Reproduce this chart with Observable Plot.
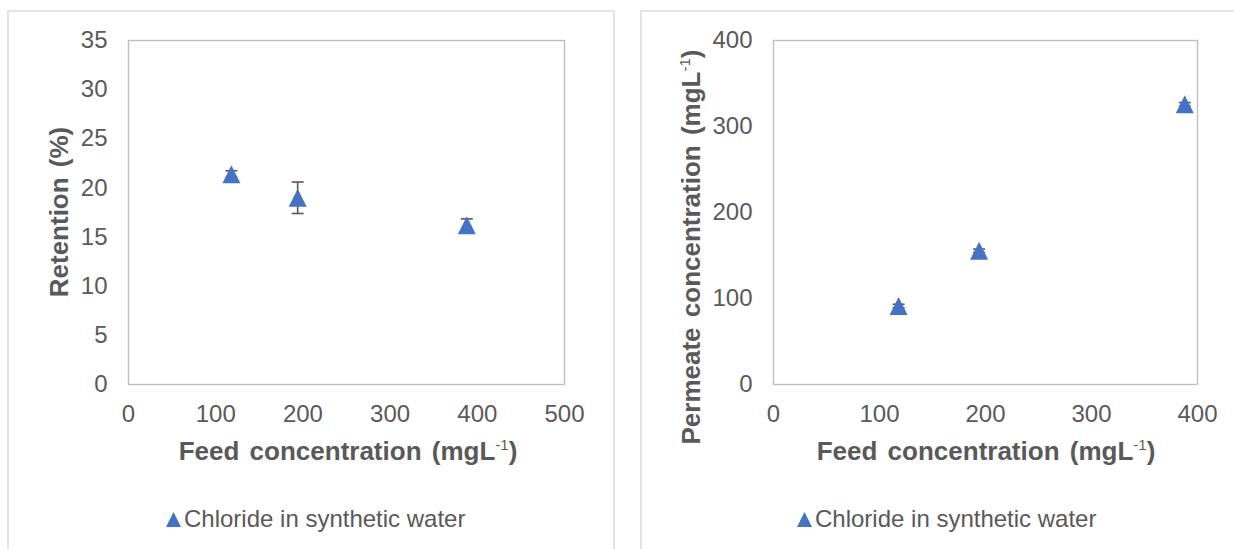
<!DOCTYPE html>
<html>
<head>
<meta charset="utf-8">
<script src="https://cdn.jsdelivr.net/npm/d3@7"></script>
<script src="https://cdn.jsdelivr.net/npm/@observablehq/plot@0.6"></script>
<style>
  html, body { margin: 0; padding: 0; background: #fff; }
  #page { position: relative; width: 1234px; height: 549px; overflow: hidden; font-family: "Liberation Sans", Arial, sans-serif; }
  .panel { position: absolute; border: 2px solid #e4e4e4; background: #fff; }
  .chart { position: absolute; top: 0; }
</style>
</head>
<body>
<div id="page">
  <div class="panel" style="left:7px; top:10px; width:604px; height:600px;"></div>
  <div class="panel" style="left:640px; top:10px; width:640px; height:600px;"></div>
  <div class="chart" id="left" style="left:0px;"></div>
  <div class="chart" id="right" style="left:620px;"></div>
</div>
<script>
// ---- data ----
const seriesName = "Chloride in synthetic water";

const feedRetention = [118, 194, 388];
const retention = [21.4, 19.0, 16.2];
const retentionErr = [0.35, 1.6, 0.65];

const feedPermeate = [118, 194, 388];
const permeate = [91.3, 155.5, 325.8];
const permeateErr = [2, 2, 2];

const leftXTicks = [0, 100, 200, 300, 400, 500];
const leftYTicks = [0, 5, 10, 15, 20, 25, 30, 35];
const rightXTicks = [0, 100, 200, 300, 400];
const rightYTicks = [0, 100, 200, 300, 400];

// ---- styling ----
const blue = "#4472C4";
const grey = "#595959";

const triangle = {
  draw(context, size) {
    const r = Math.sqrt(size / Math.PI);
    context.moveTo(0, -r);
    context.lineTo(r, r);
    context.lineTo(-r, r);
    context.closePath();
  }
};
const capLine = {
  draw(context, size) {
    const r = Math.sqrt(size / Math.PI);
    context.moveTo(-r, 0);
    context.lineTo(r, 0);
  }
};

function makeChart({xs, ys, es, xDomain, xTicks, yDomain, yTicks, width, ml, mr, mt, mb,
                    xTitle, yTitle, xTitlePos, yTitlePos, legendPos}) {
  const data = xs.map((x, i) => ({x, y: ys[i], e: es[i]}));
  const svg = Plot.plot({
    width, height: 549,
    marginLeft: ml, marginRight: mr, marginTop: mt, marginBottom: mb,
    style: {background: "transparent", color: grey, fontFamily: "'Liberation Sans', Arial, sans-serif", fontSize: "24px", overflow: "visible"},
    x: {domain: xDomain, label: null},
    y: {domain: yDomain, label: null},
    marks: [
      Plot.frame({stroke: "#bfbfbf", strokeWidth: 1.4}),
      Plot.axisX(xTicks, {tickSize: 0, tickPadding: 20, label: null, fontSize: 24, fontVariant: "normal"}),
      Plot.axisY(yTicks, {tickSize: 0, tickPadding: 21, label: null, fontSize: 24, fontVariant: "normal"}),
      Plot.ruleX(data, {x: "x", y1: d => d.y - d.e, y2: d => d.y + d.e, stroke: grey, strokeWidth: 1.6}),
      Plot.dot(data, {x: "x", y: d => d.y + d.e, symbol: capLine, r: 6, stroke: grey, strokeWidth: 1.6, fill: "none"}),
      Plot.dot(data, {x: "x", y: d => d.y - d.e, symbol: capLine, r: 6, stroke: grey, strokeWidth: 1.6, fill: "none"}),
      Plot.dot(data, {x: "x", y: "y", symbol: triangle, r: 9, fill: blue, stroke: "none"})
    ]
  });
  const s = d3.select(svg);
  // x axis title with superscript
  const tx = s.append("text")
    .attr("x", xTitlePos[0]).attr("y", xTitlePos[1])
    .attr("text-anchor", "middle").attr("font-weight", "bold").attr("font-size", 26)
    .attr("fill", grey).attr("word-spacing", "3px");
  addSuperTitle(tx, xTitle);
  // y axis title
  const ty = s.append("text")
    .attr("transform", `translate(${yTitlePos[0]},${yTitlePos[1]}) rotate(-90)`)
    .attr("text-anchor", "middle").attr("font-weight", "bold").attr("font-size", 26)
    .attr("fill", grey).attr("word-spacing", "3px");
  addSuperTitle(ty, yTitle);
  // legend
  const lg = s.append("g").attr("transform", `translate(${legendPos[0]},${legendPos[1]})`);
  lg.append("path").attr("d", "M7.5,-15L15,0L0,0Z").attr("fill", blue);
  lg.append("text").attr("x", 18).attr("y", 0).attr("text-anchor", "start")
    .attr("font-size", 24).attr("fill", grey).text(seriesName);
  return svg;
}

function addSuperTitle(t, parts) {
  t.append("tspan").text(parts[0]);
  if (parts.length > 1) {
    t.append("tspan").attr("dy", -10).attr("font-size", 15).attr("font-weight", "normal").text(parts[1]);
    t.append("tspan").attr("dy", 10).text(parts[2]);
  }
}

document.getElementById("left").append(makeChart({
  xs: feedRetention, ys: retention, es: retentionErr,
  xDomain: [0, 500], xTicks: leftXTicks, yDomain: [0, 35], yTicks: leftYTicks,
  width: 613, ml: 128, mr: 49, mt: 40, mb: 165,
  xTitle: ["Feed concentration (mgL", "-1", ")"],
  yTitle: ["Retention (%)"],
  xTitlePos: [348, 460], yTitlePos: [68, 212], legendPos: [166, 527]
}));

document.getElementById("right").append(makeChart({
  xs: feedPermeate, ys: permeate, es: permeateErr,
  xDomain: [0, 400], xTicks: rightXTicks, yDomain: [0, 400], yTicks: rightYTicks,
  width: 614, ml: 153, mr: 37, mt: 40, mb: 165,
  xTitle: ["Feed concentration (mgL", "-1", ")"],
  yTitle: ["Permeate concentration (mgL", "-1", ")"],
  xTitlePos: [366, 460], yTitlePos: [80, 247], legendPos: [177, 527]
}));
</script>
</body>
</html>
